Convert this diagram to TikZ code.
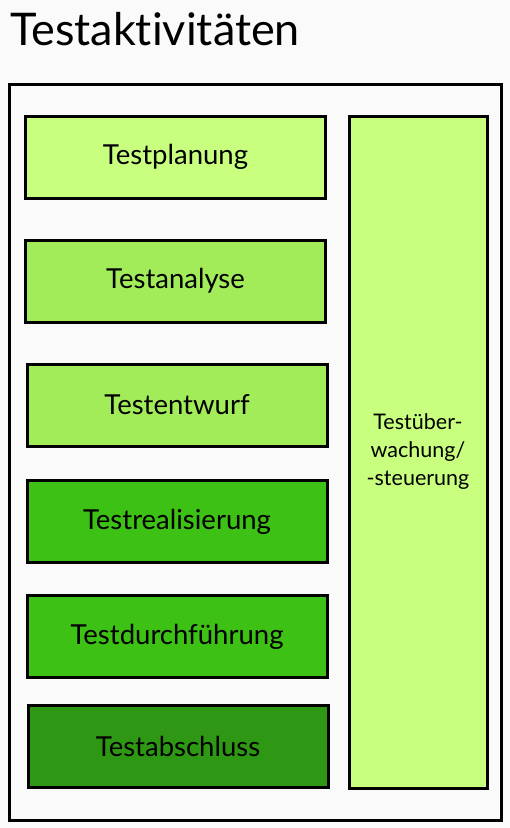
\documentclass[tikz,border=0pt]{standalone}
\usepackage{fontspec}
\setmainfont[Ligatures={NoCommon}]{Lato}
\definecolor{bg}{HTML}{FAFAFA}
\definecolor{cA}{HTML}{C9FF7F}
\definecolor{cB}{HTML}{A2EC5A}
\definecolor{cC}{HTML}{3CC114}
\definecolor{cD}{HTML}{2E9815}
\begin{document}
\begin{tikzpicture}[x=1pt,y=-1pt,
  actbox/.style={draw=black,line width=3pt,minimum width=300pt,minimum height=82pt,inner sep=0pt,font=\fontsize{27.5}{32}\selectfont},
  ]
\fill[bg] (0,0) rectangle (510,828);
\useasboundingbox (0,0) rectangle (510,828);
\node[anchor=base west,inner sep=0pt,font=\fontsize{45}{50}\selectfont] (title) at (10,45) {Testaktivitäten};
\node[draw=black,line width=3pt,minimum width=492pt,minimum height=736pt,inner sep=0pt] (frame) at (255.5,452) {};
\node[actbox,fill=cA] (p) at (175.5,157) {Testplanung};
\node[actbox,fill=cB] (a) at (175.5,281) {Testanalyse};
\node[actbox,fill=cB] (e) at (177,405) {Testentwurf};
\node[actbox,fill=cC] (r) at (177,521.5) {Testrealisierung};
\node[actbox,fill=cC] (d) at (177,636.5) {Testdurchführung};
\node[actbox,fill=cD] (s) at (178,746.5) {Testabschluss};
\node[draw=black,line width=3pt,fill=cA,minimum width=138pt,minimum height=672pt,inner sep=0pt,align=center,font=\fontsize{21.5}{28}\selectfont] (m) at (418,452) {Testüber-\\wachung/\\-steuerung};
\end{tikzpicture}
\end{document}
